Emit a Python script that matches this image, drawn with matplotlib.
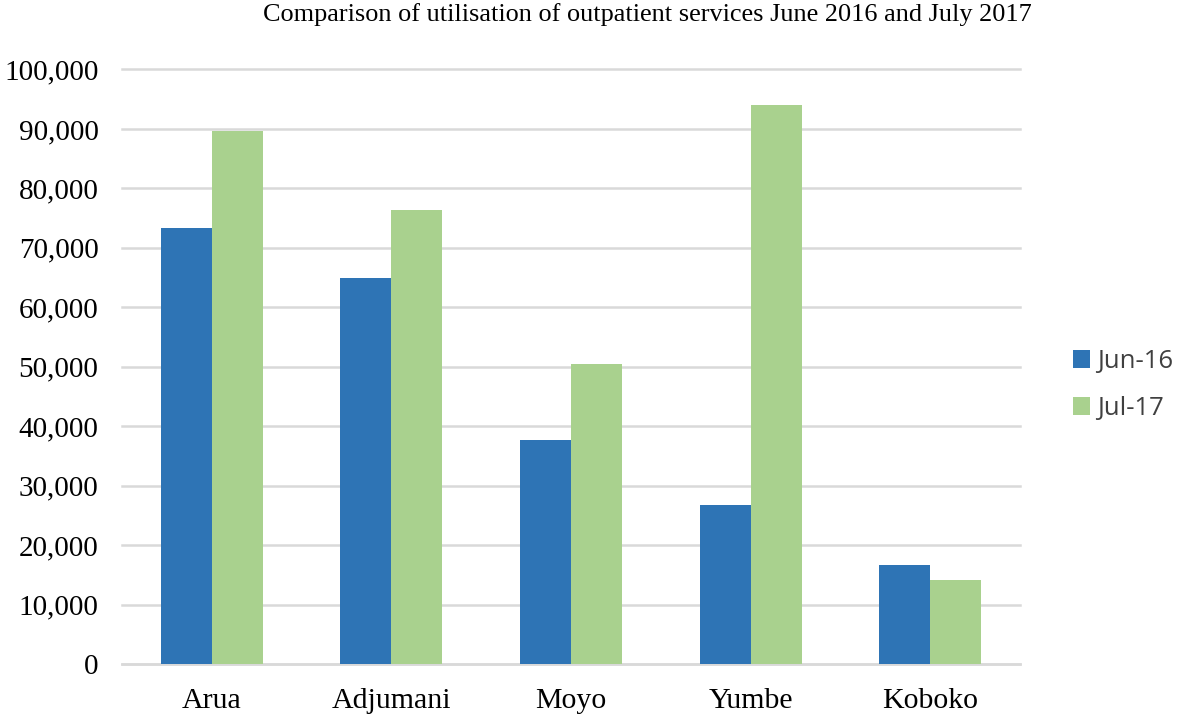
import numpy as np
import matplotlib.pyplot as plt
from matplotlib.ticker import FuncFormatter

# Daten
districts = ["Arua", "Adjumani", "Moyo", "Yumbe", "Koboko"]
jun_16 = [73300, 64900, 37600, 26700, 16650]
jul_17 = [89700, 76400, 50500, 94000, 14150]
series_labels = ["Jun-16", "Jul-17"]

blue = "#2e74b5"
green = "#a9d18e"
grid_col = "#d9d9d9"

fig = plt.figure(figsize=(11.78, 7.17), dpi=100)
ax = fig.add_axes([122/1178, 1 - 664/717, (1020 - 122)/1178, (664 - 69.5)/717])

x = np.arange(len(districts))
width = 0.284
b1 = ax.bar(x - width/2, jun_16, width, color=blue, label=series_labels[0], zorder=3)
b2 = ax.bar(x + width/2, jul_17, width, color=green, label=series_labels[1], zorder=3)

ax.set_xlim(-0.5, len(districts) - 0.5)
ax.set_ylim(0, 100000)
ax.set_yticks(np.arange(0, 100001, 10000))
ax.yaxis.set_major_formatter(FuncFormatter(lambda v, p: f"{int(v):,}"))
ax.grid(axis="y", color=grid_col, linewidth=1.8, zorder=0)
for gl in ax.get_ygridlines():
    gl.set_clip_on(False)
for s in ["top", "right", "left"]:
    ax.spines[s].set_visible(False)
ax.spines["bottom"].set_color(grid_col)
ax.spines["bottom"].set_linewidth(1.8)
ax.tick_params(axis="both", length=0)
ax.tick_params(axis="y", pad=17)
ax.tick_params(axis="x", pad=17)

ax.set_xticks(x)
ax.set_xticklabels(districts, family="Liberation Serif", fontsize=21.5)
for lab in ax.get_yticklabels():
    lab.set_family("Liberation Serif")
    lab.set_fontsize(21)

fig.text(647/1178, 1 - 15/717, "Comparison of utilisation of outpatient services June 2016 and July 2017",
         ha="center", va="center", family="Liberation Serif", fontsize=18.9)

leg = fig.legend(handles=[b1, b2], labels=series_labels, loc="center left",
                 bbox_to_anchor=(1073/1178, 1 - 385/717), frameon=False,
                 borderpad=0, borderaxespad=0,
                 prop={"family": "Open Sans", "size": 18.5}, handlelength=0.66,
                 handleheight=0.66, handletextpad=0.27, labelspacing=0.85)
for t in leg.get_texts():
    t.set_color("#404040")

fig.savefig("out.png", dpi=100)
